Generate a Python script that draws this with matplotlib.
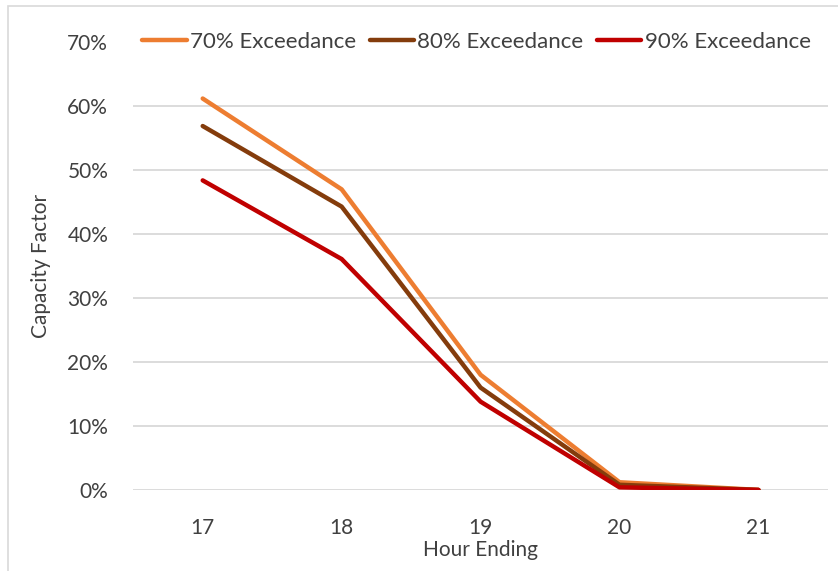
import matplotlib.pyplot as plt
from matplotlib.patches import Rectangle
from matplotlib.ticker import PercentFormatter

hours = [17, 18, 19, 20, 21]
exc_70 = [61.2, 47.0, 18.0, 1.2, 0.0]
exc_80 = [56.9, 44.3, 16.0, 0.8, 0.0]
exc_90 = [48.4, 36.1, 13.8, 0.4, 0.0]

labels = ['70% Exceedance', '80% Exceedance', '90% Exceedance']
colors = ['#ED7D31', '#843C0C', '#C00000']


def main():
    plt.rcParams['font.family'] = ['Lato', 'DejaVu Sans']
    fig = plt.figure(figsize=(8.38, 5.71), dpi=100)
    ax = fig.add_axes([0.159, 0.142, 0.829, 0.784])

    for values, label, color in zip([exc_70, exc_80, exc_90], labels, colors):
        ax.plot(hours, values, color=color, linewidth=3.2, label=label, solid_capstyle='round')

    ax.set_xlim(16.5, 21.5)
    ax.set_ylim(0, 70)
    ax.set_xticks(hours)
    ax.set_yticks(range(0, 71, 10))
    ax.yaxis.set_major_formatter(PercentFormatter(decimals=0))
    ax.grid(axis='y', color='#d9d9d9', linewidth=1.3)
    ax.set_axisbelow(True)
    for spine in ax.spines.values():
        spine.set_visible(False)
    ax.tick_params(axis='y', length=0, labelsize=15, colors='#404040', pad=18)
    ax.tick_params(axis='x', length=0, labelsize=15, colors='#404040', pad=20)
    ax.get_ygridlines()[-1].set_visible(False)

    ax.set_xlabel('Hour Ending', fontsize=15, color='#404040', labelpad=2)
    ax.set_ylabel('Capacity Factor', fontsize=15, color='#404040', labelpad=12)

    ax.legend(loc='center', bbox_to_anchor=(0.494, 1.0), ncol=3, frameon=False,
              fontsize=16, handlelength=2.0, handletextpad=0.15, columnspacing=0.6,
              labelcolor='#404040')

    fig.patches.append(Rectangle((8 / 838, -0.1), 1.2, 1.0895, transform=fig.transFigure,
                                 fill=False, edgecolor='#d9d9d9', linewidth=1.2))
    fig.savefig('out.png', dpi=100)


main()
